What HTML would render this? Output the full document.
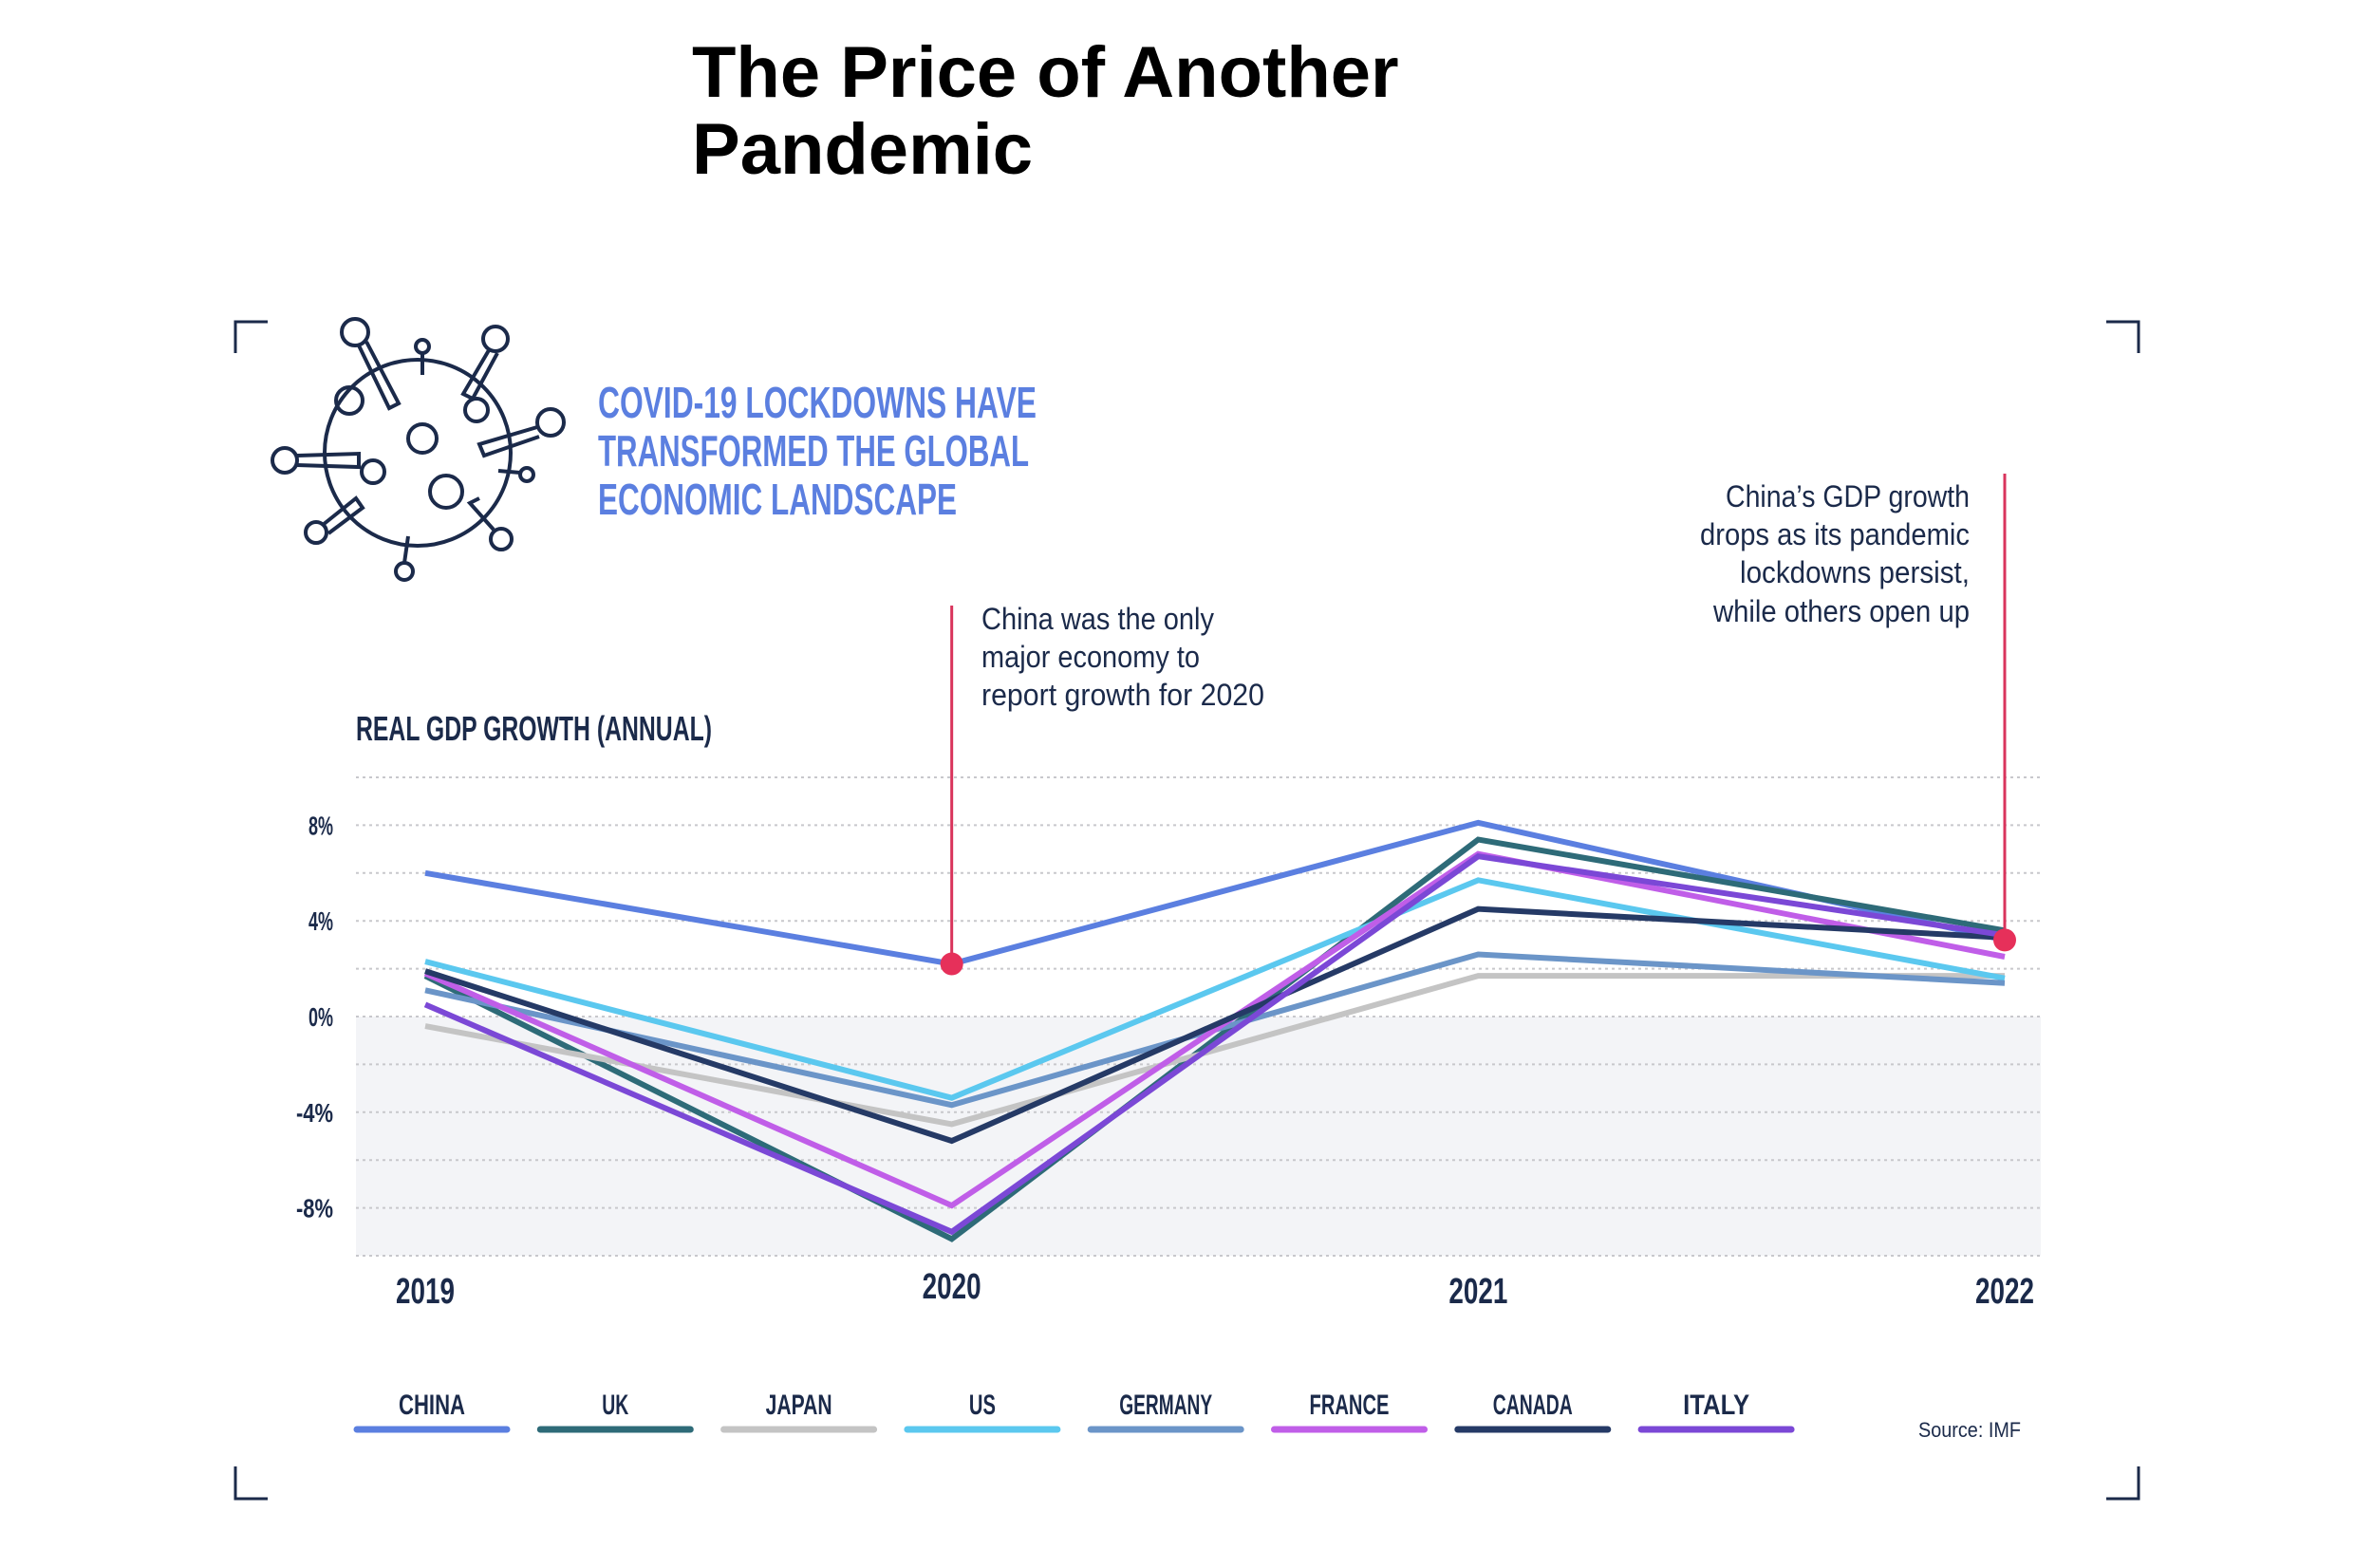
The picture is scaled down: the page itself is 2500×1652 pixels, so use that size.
<!DOCTYPE html>
<html><head><meta charset="utf-8"><style>
html,body{margin:0;padding:0;background:#fff;}
svg{display:block;}
text{font-family:"Liberation Sans Narrow","Liberation Sans",sans-serif;}
</style></head><body>
<svg id="chart" width="2500" height="1652" viewBox="0 0 2500 1652">
<text x="729" y="102" font-weight="bold" font-size="76" fill="#000" style="font-family:'Liberation Sans',sans-serif">The Price of Another</text>
<text x="729" y="183" font-weight="bold" font-size="76" fill="#000" style="font-family:'Liberation Sans',sans-serif">Pandemic</text>
<g stroke="#1b2a4a" stroke-width="3" fill="none">
<path d="M248,372 V339 H282"/><path d="M2219,339 H2253 V372"/><path d="M248,1545 V1579 H282"/><path d="M2219,1579 H2253 V1545"/>
</g>
<g stroke="#1b2a4a" stroke-width="4" fill="none">
<circle cx="440" cy="477" r="98"/>
<circle cx="374" cy="350" r="14"/><path d="M378,364 L410,430 L420,425 L386,360"/>
<circle cx="522" cy="357" r="13"/><path d="M515,369 L488,415 L498,420 L524,372"/>
<circle cx="445" cy="365" r="7"/><line x1="445" y1="372" x2="445" y2="395"/>
<circle cx="300" cy="485" r="13"/><path d="M313,480 L378,478 L378,492 L313,490"/>
<circle cx="580" cy="445" r="14"/><path d="M566,450 L505,468 L510,480 L568,460"/>
<circle cx="333" cy="561" r="11"/><path d="M340,553 L375,525 L382,535 L346,562"/>
<circle cx="528" cy="568" r="11"/><path d="M520,558 L495,530 L505,525"/>
<circle cx="426" cy="602" r="9"/><line x1="426" y1="593" x2="430" y2="565"/>
<circle cx="555" cy="500" r="7"/><line x1="548" y1="498" x2="525" y2="496"/>
<circle cx="368" cy="422" r="14"/><circle cx="502" cy="432" r="12"/>
<circle cx="445" cy="462" r="15"/><circle cx="393" cy="497" r="12"/><circle cx="470" cy="518" r="17"/>
</g>
<g fill="#5b7fe0" font-weight="bold" font-size="46">
<text x="630" y="440" textLength="462" lengthAdjust="spacingAndGlyphs">COVID-19 LOCKDOWNS HAVE</text>
<text x="630" y="491" textLength="454" lengthAdjust="spacingAndGlyphs">TRANSFORMED THE GLOBAL</text>
<text x="630" y="542" textLength="378" lengthAdjust="spacingAndGlyphs">ECONOMIC LANDSCAPE</text>
</g>
<text x="375" y="780" font-weight="bold" font-size="36" fill="#1b2a4a" textLength="375" lengthAdjust="spacingAndGlyphs">REAL GDP GROWTH (ANNUAL)</text>
<g id="plot"></g>
<g fill="#1b2a4a" font-size="32">
<text x="1034" y="663" textLength="245" lengthAdjust="spacingAndGlyphs">China was the only</text>
<text x="1034" y="703" textLength="230" lengthAdjust="spacingAndGlyphs">major economy to</text>
<text x="1034" y="743" textLength="298" lengthAdjust="spacingAndGlyphs">report growth for 2020</text>
</g>
<g fill="#1b2a4a" font-size="32">
<text x="1818" y="534" textLength="257" lengthAdjust="spacingAndGlyphs">China’s GDP growth</text>
<text x="1791" y="574" textLength="284" lengthAdjust="spacingAndGlyphs">drops as its pandemic</text>
<text x="1833" y="614" textLength="242" lengthAdjust="spacingAndGlyphs">lockdowns persist,</text>
<text x="1805" y="655" textLength="270" lengthAdjust="spacingAndGlyphs">while others open up</text>
</g>
<g id="legend"></g>
<text x="2021" y="1514" font-size="22" fill="#1b2a4a" textLength="108" lengthAdjust="spacingAndGlyphs">Source: IMF</text>
</svg>
<script>
const years = ["2019","2020","2021","2022"];
const countries = ["CHINA","UK","JAPAN","US","GERMANY","FRANCE","CANADA","ITALY"];
const colors = ["#5b7fe0","#2e6b78","#c4c4c4","#5bc8ef","#6b95c8","#c05ee8","#253a66","#7b48d6"];
const china = [6.0, 2.2, 8.1, 3.2];
const uk = [1.7, -9.3, 7.4, 3.6];
const japan = [-0.4, -4.5, 1.7, 1.7];
const us = [2.3, -3.4, 5.7, 1.6];
const germany = [1.1, -3.7, 2.6, 1.4];
const france = [1.8, -7.9, 6.8, 2.5];
const canada = [1.9, -5.2, 4.5, 3.3];
const italy = [0.5, -9.0, 6.7, 3.4];
const yTicks = [8, 4, 0, -4, -8];
const yTickLabels = ["8%","4%","0%","-4%","-8%"];
const gridValues = [10, 8, 6, 4, 2, 0, -2, -4, -6, -8, -10];
const series = [china, uk, japan, us, germany, france, canada, italy];
const highlights = [[0,1],[0,3]];

const NS = "http://www.w3.org/2000/svg";
const plot = document.getElementById("plot");
const legend = document.getElementById("legend");
const X0 = 375, X1 = 2150;
const xs = [448, 1005, 1565, 2112];
function x(i){ return xs[0] + (xs[3]-xs[0]) * i/(years.length-1); }
function y(v){ return 1071 - v*25.2; }
function mk(tag, attrs, parent){ const e=document.createElementNS(NS,tag); for(const k in attrs) e.setAttribute(k,attrs[k]); parent.appendChild(e); return e; }

const shade = mk("rect",{x:X0,y:y(0),width:X1-X0,height:y(-10)-y(0),fill:"#f3f4f7"},plot);


gridValues.forEach(v=>{
  const g = mk("line",{x1:X0,x2:X1,y1:y(v),y2:y(v),stroke:"#c8c8cc","stroke-width":2,"stroke-dasharray":"3 4"},plot);
  
  
});
yTicks.forEach((v,i)=>{
  const lbl = yTickLabels[i];
  const w = lbl.length*13;
  const t = mk("text",{x:351-w,y:y(v)+10,"font-size":28,"font-weight":"bold",fill:"#1b2a4a",textLength:w,lengthAdjust:"spacingAndGlyphs"},plot);
  t.textContent = lbl;
  
  
});
years.forEach((yr,i)=>{
  const t = mk("text",{x:x(i)-31,y:i==1?1368:1373,"font-size":38,"font-weight":"bold",fill:"#1b2a4a",textLength:62,lengthAdjust:"spacingAndGlyphs"},plot);
  t.textContent = yr;
  
  
});
series.forEach((s,k)=>{
  const pts = s.map((v,i)=>x(i)+","+y(v)).join(" ");
  const p = mk("polyline",{points:pts,fill:"none",stroke:colors[k],"stroke-width":6,"stroke-linejoin":"miter"},plot);
  
  
});
const topY = [638, 499];
highlights.forEach((h,j)=>{
  const cx = x(h[1]), cy = y(series[h[0]][h[1]]);
  const l = mk("line",{x1:cx,x2:cx,y1:topY[j],y2:cy,stroke:"#d9345c","stroke-width":3},plot);
  
  
  const c = mk("circle",{cx:cx,cy:cy,r:12,fill:"#e6305a"},plot);
  
  
});
countries.forEach((name,k)=>{
  const lx = 372 + k*193.3;
  const w = name.length*14;
  const t = mk("text",{x:lx+83-w/2,y:1490,"font-size":30,"font-weight":"bold",fill:"#1b2a4a",textLength:w,lengthAdjust:"spacingAndGlyphs"},legend);
  t.textContent = name;
  
  
  const s = mk("line",{x1:lx+4,x2:lx+162,y1:1506,y2:1506,stroke:colors[k],"stroke-width":7,"stroke-linecap":"round"},legend);
  
  
});
</script>
</body></html>
